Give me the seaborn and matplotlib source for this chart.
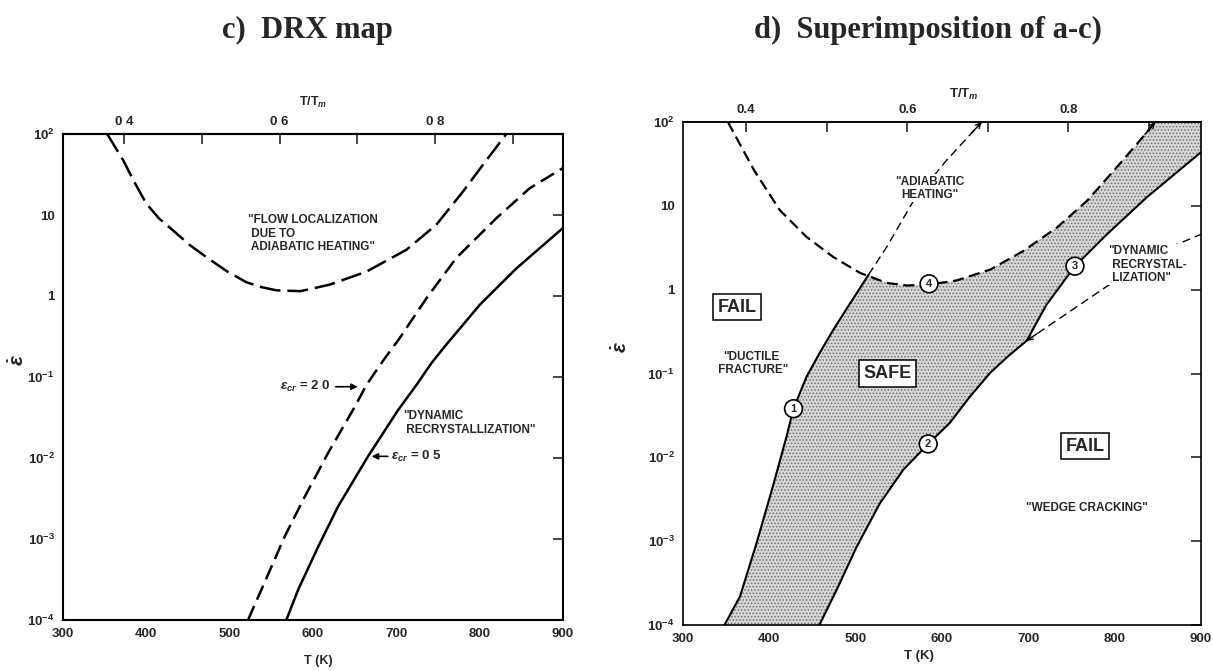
import numpy as np
import pandas as pd
import matplotlib
matplotlib.use('Agg')
import matplotlib.pyplot as plt
import seaborn as sns

T_MELT = 933  # K (aluminium), used for the T/Tm top axis

""" ================= Data (read off the picture, log10 of strain rate) ================= """
# c) DRX map
adi_c_T   = [353, 372, 386, 400, 415, 432, 452, 472, 496, 520, 538, 556, 585, 620, 664, 712, 748, 780, 804, 832]
adi_c_log = [2.0, 1.68, 1.40, 1.14, 0.96, 0.81, 0.63, 0.48, 0.31, 0.17, 0.11, 0.07, 0.06, 0.14, 0.30, 0.57, 0.88, 1.29, 1.62, 2.0]
drx20_T   = [522, 543, 566, 590, 618, 650, 664, 684, 704, 736, 772, 820, 860, 900]
drx20_log = [-4, -3.51, -2.97, -2.48, -1.94, -1.37, -1.10, -0.80, -0.52, -0.03, 0.47, 0.96, 1.33, 1.58]
drx05_T   = [568, 582, 606, 630, 666, 702, 724, 742, 760, 800, 844, 900]
drx05_log = [-4, -3.63, -3.10, -2.60, -1.98, -1.41, -1.10, -0.83, -0.60, -0.11, 0.34, 0.84]

# d) superimposition
curve1_T    = [348, 366, 385, 404, 420, 428, 443, 458, 474, 490, 502, 515]
curve1_log  = [-4, -3.66, -3.03, -2.35, -1.75, -1.42, -1.04, -0.76, -0.48, -0.22, -0.03, 0.18]
adi_ext_T   = [515, 536, 567, 605, 646]
adi_ext_log = [0.18, 0.51, 1.06, 1.54, 2.0]
adi_d_T     = [352, 382, 412, 443, 474, 505, 536, 559, 585, 617, 656, 694, 733, 768, 799, 826, 847]
adi_d_log   = [2.0, 1.43, 0.95, 0.63, 0.39, 0.20, 0.08, 0.05, 0.06, 0.11, 0.24, 0.46, 0.74, 1.06, 1.42, 1.74, 2.0]
curve2_T    = [458, 478, 501, 528, 555, 584, 609, 632, 656, 677, 698]
curve2_log  = [-4, -3.58, -3.07, -2.55, -2.15, -1.84, -1.59, -1.28, -0.99, -0.79, -0.61]
curve3_T    = [698, 721, 754, 791, 837, 900]
curve3_log  = [-0.61, -0.18, 0.28, 0.66, 1.10, 1.64]
drx_ext_T   = [698, 791, 872, 900]
drx_ext_log = [-0.61, 0.04, 0.54, 0.66]

# axes
T_ticks     = [300, 400, 500, 600, 700, 800, 900]
ratio_ticks = [0.4, 0.5, 0.6, 0.7, 0.8, 0.9]
ratio_lbl_c = ['0 4', '', '0 6', '', '0 8', '']
ratio_lbl_d = ['0.4', '', '0.6', '', '0.8', '']
rate_ticks  = [1e-4, 1e-3, 1e-2, 1e-1, 1, 10, 100]
rate_lbls   = ['$10^{-4}$', '$10^{-3}$', '$10^{-2}$', '$10^{-1}$', '1', '10', '$10^2$']

# circled numbers (T, log rate)
circles = {'1': (428, -1.42), '2': (584, -1.84), '3': (754, 0.28), '4': (585, 0.07)}

""" ================= Style ================= """
sns.set_style('white')
plt.rcParams['font.family'] = ['Liberation Sans', 'DejaVu Sans']
plt.rcParams['font.weight'] = 'bold'
plt.rcParams['axes.labelweight'] = 'bold'
plt.rcParams['mathtext.fontset'] = 'custom'
plt.rcParams['mathtext.rm'] = 'Liberation Sans:bold'
plt.rcParams['mathtext.it'] = 'Liberation Sans:italic'
plt.rcParams['mathtext.bf'] = 'Liberation Sans:bold'
plt.rcParams['lines.scale_dashes'] = False
plt.rcParams['hatch.linewidth'] = 0.7


def curve(ax, T, logs, lw, dash=None):
    d = pd.DataFrame({'T': T, 'rate': 10.0 ** np.array(logs)})
    kw = dict(data=d, x='T', y='rate', ax=ax, color='black', lw=lw, sort=False, estimator=None)
    if dash is not None:
        kw['linestyle'] = (0, dash)
    sns.lineplot(**kw)


def tip_arrow(ax, T, L, end=True):
    # small open arrowhead sitting on the end of a line
    i, j = (-1, -2) if end else (0, 1)
    f = min(1.0, 12.0 / abs(T[j] - T[i]))
    xs = T[i] + f * (T[j] - T[i])
    ys = L[i] + f * (L[j] - L[i])
    ax.annotate('', xy=(T[i], 10 ** L[i]), xytext=(xs, 10 ** ys),
                arrowprops=dict(arrowstyle='->', color='black', lw=1.0, mutation_scale=9,
                                shrinkA=0, shrinkB=0))


def frame(ax, ratio_lbls, spine_w):
    ax.set_yscale('log')
    ax.set_xlim(300, 900)
    ax.set_ylim(1e-4, 1e2)
    ax.set_xticks(T_ticks)
    ax.set_xticklabels([str(t) for t in T_ticks])
    ax.set_yticks(rate_ticks)
    ax.set_yticklabels(rate_lbls)
    ax.yaxis.set_minor_locator(matplotlib.ticker.NullLocator())
    ax.tick_params(direction='in', length=7, width=1.2, right=True, labelsize=9.5, pad=6)
    for s in ax.spines.values():
        s.set_linewidth(spine_w)
        s.set_color('black')
    sec = ax.secondary_xaxis('top', functions=(lambda t: t / T_MELT, lambda r: r * T_MELT))
    sec.set_xticks(ratio_ticks)
    sec.set_xticklabels(ratio_lbls)
    sec.tick_params(direction='in', length=7, width=1.2, labelsize=9.5, pad=4)
    sec.spines['top'].set_linewidth(spine_w)
    ax.set_xlabel('')
    ax.set_ylabel('')
    return sec


fig = plt.figure(figsize=(12.13, 6.71), dpi=100)
ax_c = fig.add_axes([63 / 1213, 1 - 620 / 671, 500 / 1213, 486 / 671])
ax_d = fig.add_axes([683 / 1213, 1 - 625 / 671, 518 / 1213, 503 / 671])

fig.text(307 / 1213, 1 - 30 / 671, 'c)  DRX map', family='Liberation Serif',
         fontweight='bold', fontsize=22, ha='center', va='center')
fig.text(928 / 1213, 1 - 30 / 671, 'd)  Superimposition of a-c)', family='Liberation Serif',
         fontweight='bold', fontsize=22, ha='center', va='center')

""" ================= c) DRX map ================= """
curve(ax_c, adi_c_T, adi_c_log, 1.8, (15, 5))
curve(ax_c, drx20_T, drx20_log, 1.8, (11, 5))
curve(ax_c, drx05_T, drx05_log, 1.8)
sec_c = frame(ax_c, ratio_lbl_c, 1.5)
sec_c.set_xlabel('T/T$_m$', fontsize=9, fontweight='bold')
sec_c.xaxis.set_label_coords(0.5, 1.058, transform=ax_c.transAxes)
ax_c.set_xlabel('T (K)', fontsize=9)
ax_c.xaxis.set_label_coords(0.51, -0.072)
ax_c.set_ylabel(r'$\dot{\epsilon}$', fontsize=15)
ax_c.yaxis.set_label_coords(-0.07, 0.535)

txt = dict(fontsize=8.5, fontweight='bold', linespacing=1.15)
ax_c.text(522, 10 ** 0.77, '"FLOW LOCALIZATION\n DUE TO\n ADIABATIC HEATING"', ha='left', va='center', **txt)
ax_c.text(708, 10 ** -1.57, '"DYNAMIC\n RECRYSTALLIZATION"', ha='left', va='center', **txt)
ax_c.text(561, 10 ** -1.12, r'$\epsilon_{cr}$ = 2 0', ha='left', va='center', fontsize=9.5, fontweight='bold')
ax_c.annotate('', xy=(657, 10 ** -1.12), xytext=(624, 10 ** -1.12),
              arrowprops=dict(arrowstyle='-|>', color='black', lw=1.2, mutation_scale=9))
ax_c.annotate('', xy=(667, 10 ** -1.98), xytext=(693, 10 ** -1.98),
              arrowprops=dict(arrowstyle='-|>', color='black', lw=1.2, mutation_scale=9))
ax_c.text(694, 10 ** -1.98, r'$\epsilon_{cr}$ = 0 5', ha='left', va='center', fontsize=9.5, fontweight='bold')

""" ================= d) Superimposition ================= """
# stippled safe region: curve 1 -> adiabatic boundary -> top right corner -> curve 3 -> curve 2
upper = [(t, l) for t, l in zip(adi_d_T, adi_d_log) if t > curve1_T[-1]]
poly_T = curve1_T + [p[0] for p in upper] + [900] + curve3_T[::-1] + curve2_T[::-1]
poly_L = curve1_log + [p[1] for p in upper] + [2.0] + curve3_log[::-1] + curve2_log[::-1]
ax_d.fill(poly_T, 10.0 ** np.array(poly_L), facecolor='#d6d6d6', edgecolor='#707070',
          hatch='.....', lw=0, zorder=0)

curve(ax_d, curve1_T, curve1_log, 1.5)
curve(ax_d, curve2_T, curve2_log, 1.5)
curve(ax_d, curve3_T, curve3_log, 1.5)
curve(ax_d, adi_d_T, adi_d_log, 1.6, (8, 4))
curve(ax_d, adi_ext_T, adi_ext_log, 1.0, (6, 3.5))
curve(ax_d, drx_ext_T, drx_ext_log, 1.0, (6, 3.5))
tip_arrow(ax_d, adi_ext_T, adi_ext_log)
tip_arrow(ax_d, adi_d_T, adi_d_log)
tip_arrow(ax_d, drx_ext_T, drx_ext_log, end=False)

sec_d = frame(ax_d, ratio_lbl_d, 1.2)
sec_d.set_xlabel('T/T$_m$', fontsize=9.5, fontweight='bold')
sec_d.xaxis.set_label_coords(0.543, 1.048, transform=ax_d.transAxes)
ax_d.set_xlabel('T (K)', fontsize=9.5)
ax_d.xaxis.set_label_coords(0.455, -0.05)
ax_d.set_ylabel(r'$\dot{\epsilon}$', fontsize=15)
ax_d.yaxis.set_label_coords(-0.10, 0.553)

box = dict(boxstyle='square,pad=0.25', fc='white', ec='black', lw=1.1)
ax_d.text(363, 10 ** -0.21, 'FAIL', ha='center', va='center', fontsize=13, bbox=box)
ax_d.text(537, 10 ** -1.0, 'SAFE', ha='center', va='center', fontsize=13, bbox=box)
ax_d.text(766, 10 ** -1.87, 'FAIL', ha='center', va='center', fontsize=13, bbox=box)
ax_d.text(379, 10 ** -0.88, '"DUCTILE\n FRACTURE"', ha='center', va='center', **txt)
ax_d.text(768, 10 ** -2.61, '"WEDGE CRACKING"', ha='center', va='center', **txt)
clear = dict(boxstyle='square,pad=0.1', fc='white', ec='none')
ax_d.text(586, 10 ** 1.21, '"ADIABATIC\nHEATING"', ha='center', va='center', bbox=clear, **txt)
ax_d.text(793, 10 ** 0.30, '"DYNAMIC\n RECRYSTAL-\n LIZATION"', ha='left', va='center', bbox=clear, **txt)

for num, (t, l) in circles.items():
    ax_d.text(t, 10 ** l, num, ha='center', va='center', fontsize=8, zorder=5,
              bbox=dict(boxstyle='circle,pad=0.35', fc='white', ec='black', lw=1.2))

fig.savefig('out.png', dpi=100)
